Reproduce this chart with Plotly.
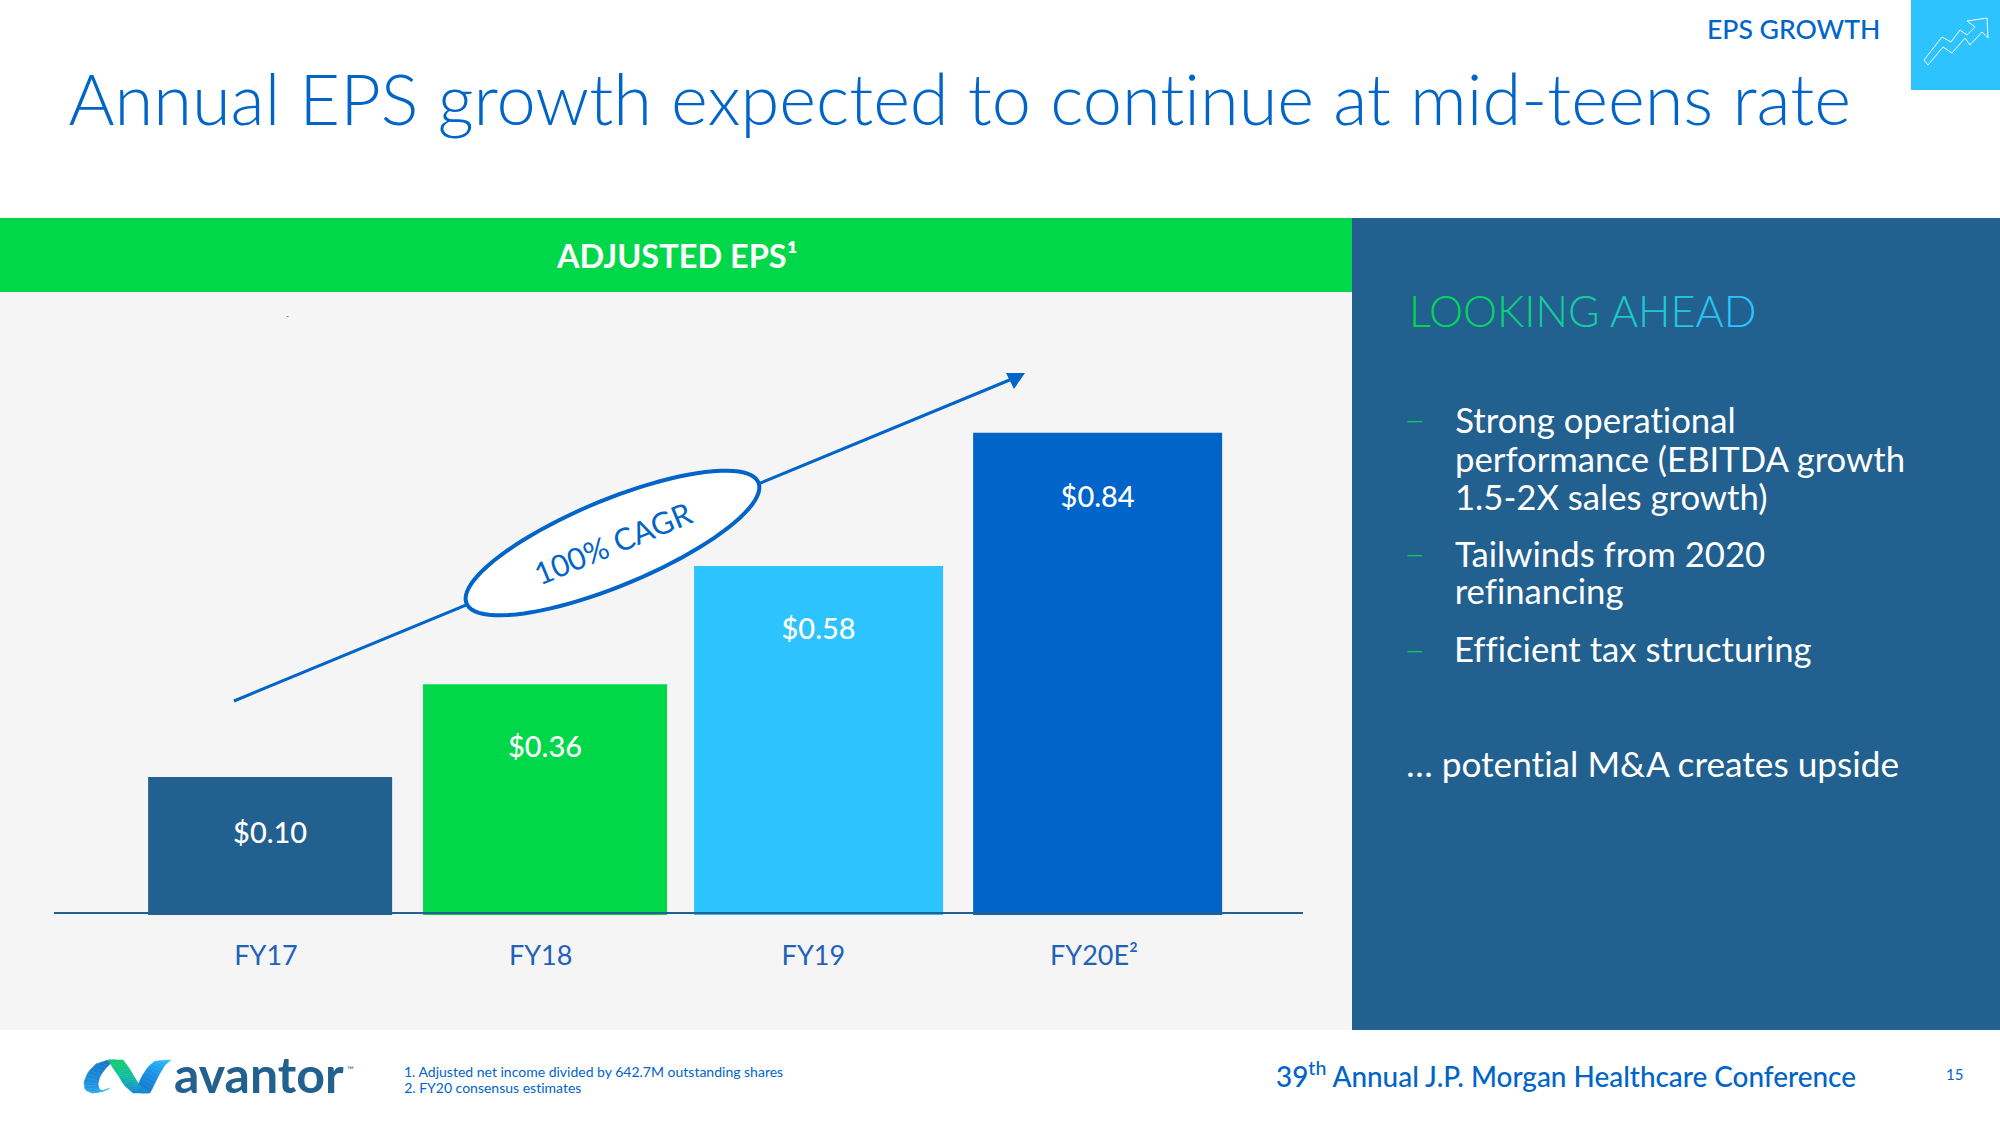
import numpy as np
import plotly.graph_objects as go

W, H = 2000, 1125
FONT = "Lato"

categories = ["FY17", "FY18", "FY19", "FY20E²"]
bar_labels = ["$0.10", "$0.36", "$0.58", "$0.84"]
drawn_heights = [0.241, 0.403, 0.6095, 0.842]
bar_slots = [0.0, 0.996, 1.987, 2.998]
bar_widths = [0.884, 0.884, 0.902, 0.902]
bar_colors = ["#22608F", "#00D84A", "#2DC3FF", "#0064C8"]
tick_slots = [-0.015, 0.98, 1.968, 2.985]
label_heights = [0.139, 0.288, 0.495, 0.726]

BLUE = "#0064C8"
NAVY = "#22608F"
SKY = "#2DC3FF"
GREEN = "#00D84A"

def X(p): return p / W
def Y(p): return 1 - p / H

def rect(x0, y0, x1, y1, color):
    return dict(type="rect", xref="paper", yref="paper", x0=X(x0), x1=X(x1), y0=Y(y0), y1=Y(y1),
                fillcolor=color, line_width=0, layer="below")

def path_shape(pts, fill=None, line=None, lw=0, close=True, layer="above"):
    d = "M " + " L ".join(f"{X(a):.5f} {Y(b):.5f}" for a, b in pts) + (" Z" if close else "")
    return dict(type="path", xref="paper", yref="paper", path=d, fillcolor=fill or "rgba(0,0,0,0)",
                line=dict(color=line or "rgba(0,0,0,0)", width=lw), layer=layer)

def txt(x, y, s, size, color, anchor="left", weight=400, angle=0):
    return dict(text=s, x=X(x), y=Y(y), xref="paper", yref="paper", xanchor=anchor, yanchor="middle",
                showarrow=False, textangle=angle, font=dict(family=FONT, size=size, color=color, weight=weight))

def hex_rgb(h):
    return np.array([int(h[i:i + 2], 16) for i in (1, 3, 5)], dtype=float)

def ribbon(edge_a, edge_b, stops, n=14):
    """Logo ribbon: a band between two edges, shaded along its length."""
    a, b = np.array(edge_a, float), np.array(edge_b, float)
    ctrl = np.linspace(0, 1, len(a))
    u = np.linspace(0, 1, n + 1)
    ax, ay = np.interp(u, ctrl, a[:, 0]), np.interp(u, ctrl, a[:, 1])
    bx, by = np.interp(u, ctrl, b[:, 0]), np.interp(u, ctrl, b[:, 1])
    cols = np.array([hex_rgb(s) for s in stops])
    cpos = np.linspace(0, 1, len(stops))
    out = []
    for i in range(n):
        mid = (u[i] + u[i + 1]) / 2
        c = [int(np.interp(mid, cpos, cols[:, k])) for k in range(3)]
        col = f"rgb({c[0]},{c[1]},{c[2]})"
        pts = [(ax[i], ay[i]), (ax[i + 1], ay[i + 1]), (bx[i + 1], by[i + 1]), (bx[i], by[i])]
        out.append(path_shape(pts, fill=col, line=col, lw=0.5))
    return out

shapes = [
    rect(0, 218, 1352, 292, GREEN),
    rect(0, 292, 1352, 1030, "#F5F5F5"),
    rect(1352, 218, 2000, 1030, NAVY),
    rect(1911, 0, 2000, 90, SKY),
]

# trend arrow and ellipse
shapes.append(dict(type="line", xref="paper", yref="paper", x0=X(234), y0=Y(701), x1=X(1012), y1=Y(379),
                   line=dict(color=BLUE, width=3), layer="above"))
shapes.append(path_shape([(1025, 373), (1006, 373), (1014, 389)], fill=BLUE))
t = np.linspace(0, 2 * np.pi, 90)
a, b, th = 158.0, 43.0, np.radians(22.5)
ex = 612.5 + a * np.cos(t) * np.cos(th) + b * np.sin(t) * np.sin(th)
ey = 543 - a * np.cos(t) * np.sin(th) + b * np.sin(t) * np.cos(th)
shapes.append(path_shape(list(zip(ex, ey)), fill="#FFFFFF", line=BLUE, lw=4))

# growth icon, top right
icon = [(1924, 60), (1928, 65), (1943, 47), (1952, 53), (1965, 38), (1970, 45), (1982, 32), (1988, 38), (1987, 18),
        (1967, 21), (1975, 27), (1967, 35), (1960, 30), (1951, 42), (1942, 37)]
shapes.append(path_shape(icon, line="#FFFFFF", lw=1))

# logo marks
shapes += ribbon([(116, 1060), (108, 1060), (96, 1064), (88, 1072), (84, 1082), (85, 1090), (92, 1093), (100, 1092), (110, 1088)],
                 [(116, 1060), (112, 1062), (106, 1068), (100, 1076), (98, 1084), (99, 1089), (102, 1091), (106, 1090), (110, 1088)],
                 ["#1468C4", "#1E90DC", "#2DC3FF"], n=20)
shapes += ribbon([(140, 1093), (150, 1093), (155, 1083), (160, 1073), (165, 1065), (171, 1060)],
                 [(140, 1093), (138, 1085), (142, 1076), (148, 1067), (155, 1061), (171, 1060)],
                 ["#0F6AC8", "#1A8FE0", "#2DC3FF"])
shapes += ribbon([(108, 1060), (113, 1068), (118, 1075), (124, 1085), (133, 1093)],
                 [(123, 1060), (129, 1068), (135, 1078), (140, 1086), (150, 1093)],
                 ["#10CF66", "#14BFA0", "#1585DC"])

heading = "LOOKING AHEAD"
c0, c1 = np.array([0, 216, 74]), np.array([45, 195, 255])
heading_html = "".join(
    f'<span style="color:rgb({",".join(str(int(v)) for v in c0 + (c1 - c0) * i / (len(heading) - 1))})">{ch}</span>'
    for i, ch in enumerate(heading))

WHITE = "#FFFFFF"
annotations = [
    txt(66, 98, "Annual EPS growth expected to continue at mid-teens rate", 70.4, BLUE, weight=300),
    txt(1882, 29, "EPS GROWTH", 26.6, BLUE, anchor="right", weight=500),
    txt(676, 255, "ADJUSTED EPS¹", 32.5, WHITE, anchor="center", weight=700),
    txt(1407, 310, heading_html, 43, GREEN, weight=300),
    txt(1453, 419, "Strong operational", 34.7, WHITE),
    txt(1453, 458, "performance (EBITDA growth", 34.7, WHITE),
    txt(1453, 496, "1.5-2X sales growth)", 34.7, WHITE),
    txt(1453, 553, "Tailwinds from 2020", 34.7, WHITE),
    txt(1453, 590, "refinancing", 34.7, WHITE),
    txt(1453, 648, "Efficient tax structuring", 34.7, WHITE),
    txt(1404, 763, "… potential M&amp;A creates upside", 35.2, WHITE),
    txt(172, 1074, "avantor", 50, NAVY, weight=700),
    txt(345, 1069, "™", 9, NAVY),
    txt(402, 1071, "1. Adjusted net income divided by 642.7M outstanding shares", 14, BLUE),
    txt(402, 1087, "2. FY20 consensus estimates", 14, BLUE),
    txt(1274, 1074, "39<sup>th</sup> Annual J.P. Morgan Healthcare Conference", 27.9, BLUE, weight=500),
    txt(1954, 1074, "15", 15, BLUE, anchor="center"),
    txt(287, 316, "-", 8, "#444444", anchor="center"),
    txt(612, 543, "100% CAGR", 30.5, BLUE, anchor="center", angle=-22.5),
]
for yy in [420, 553, 649]:
    annotations.append(txt(1404, yy, "—", 22, GREEN))

fig = go.Figure()
fig.add_bar(x=bar_slots, y=drawn_heights, width=bar_widths, marker=dict(color=bar_colors, line_width=0),
            hoverinfo="skip", showlegend=False)
fig.add_scatter(x=bar_slots, y=label_heights, mode="text", text=bar_labels,
                textfont=dict(family=FONT, size=29, color=WHITE, weight=500), hoverinfo="skip", showlegend=False)

fig.update_layout(
    width=W, height=H, margin=dict(l=0, r=0, t=0, b=0), paper_bgcolor="#FFFFFF", plot_bgcolor="rgba(0,0,0,0)",
    shapes=shapes, annotations=annotations, showlegend=False,
    xaxis=dict(domain=[X(54), X(1303)], range=[-0.783, 3.742], anchor="free", position=Y(913), tickmode="array",
               tickvals=tick_slots, ticktext=categories, ticks="outside", ticklen=19, tickcolor="rgba(0,0,0,0)",
               tickfont=dict(family=FONT, size=27, color="#1F62B8"), showgrid=False, zeroline=False,
               showline=True, linecolor=NAVY, linewidth=1.5),
    yaxis=dict(domain=[Y(915), Y(300)], range=[0, 615 / 572.6], visible=False, showgrid=False, zeroline=False),
)
fig.write_html("out.html", config={"displayModeBar": False},
               post_script="document.body.style.margin='0';document.body.style.overflow='hidden';"
                           "var s=document.createElement('style');"
                           "s.textContent='svg text{font-variant-ligatures:none;font-feature-settings:\"liga\" 0;}';"
                           "document.head.appendChild(s);")
